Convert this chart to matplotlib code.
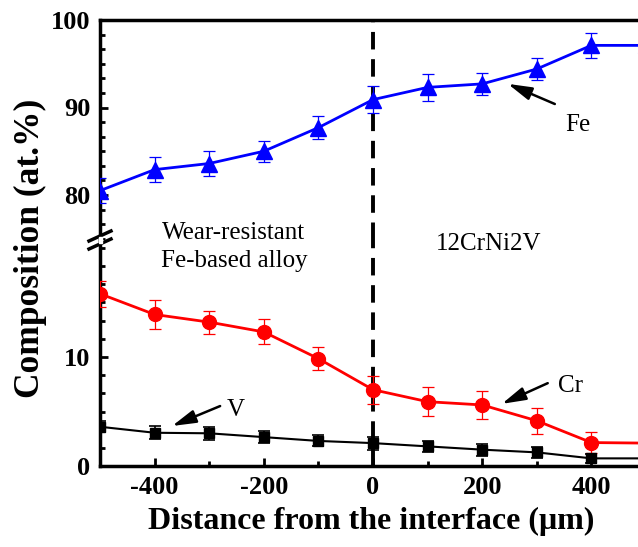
import matplotlib
matplotlib.use('Agg')
import matplotlib.pyplot as plt
from matplotlib.ticker import MultipleLocator, AutoMinorLocator

plt.rcParams['font.family'] = ['Liberation Serif', 'DejaVu Serif']

# data
distance = [-500, -400, -300, -200, -100, 0, 100, 200, 300, 400, 500]
fe = [80.5, 82.9, 83.6, 85.0, 87.7, 90.9, 92.3, 92.7, 94.4, 97.1, 97.1]
fe_err = [1.4, 1.4, 1.45, 1.2, 1.3, 1.55, 1.5, 1.3, 1.3, 1.4, 0.0]
cr = [15.8, 13.9, 13.2, 12.3, 9.85, 7.0, 5.9, 5.6, 4.15, 2.15, 2.1]
cr_err = [1.2, 1.35, 1.05, 1.15, 1.07, 1.3, 1.35, 1.25, 1.2, 1.0, 0.0]
v = [3.6, 3.05, 3.0, 2.65, 2.3, 2.1, 1.8, 1.5, 1.25, 0.7, 0.7]
v_err = [0.5, 0.6, 0.6, 0.55, 0.5, 0.6, 0.5, 0.55, 0.5, 0.4, 0.0]

W, H = 638, 547
fig = plt.figure(figsize=(W / 100, H / 100), dpi=100)

left = 100 / W
width = 546 / W          # -500..500 -> 100..646 px (right end cut off)
top_px, split_px, bot_px = 20, 240, 466
ax_top = fig.add_axes([left, 1 - split_px / H, width, (split_px - top_px) / H])
ax_bot = fig.add_axes([left, 1 - bot_px / H, width, (bot_px - split_px) / H])

err_kw = dict(elinewidth=0.9, capsize=4, capthick=0.9, lw=2, zorder=3)
ax_top.errorbar(distance, fe, yerr=fe_err, color='#0000ff', marker='^', ms=11, **err_kw)
ax_bot.errorbar(distance, cr, yerr=cr_err, color='#ff0000', marker='o', ms=10, **err_kw)
ax_bot.errorbar(distance, v, yerr=v_err, color='black', marker='s', ms=7.5,
                elinewidth=1.2, capsize=4, capthick=1.2, lw=1.5, zorder=3)

ax_top.set_ylim(100 - (split_px - top_px) / 8.75, 100)
ax_bot.set_ylim(0, (bot_px - split_px) / 10.9)

for ax in (ax_top, ax_bot):
    ax.set_xlim(-500, 500)
    ax.axvline(0, color='black', lw=2.8, ls=(0, (4.5, 2.5)), zorder=2)
    ax.spines['right'].set_visible(False)
    ax.spines['left'].set_linewidth(2.5)
    ax.yaxis.set_major_locator(MultipleLocator(10))
    ax.yaxis.set_minor_locator(AutoMinorLocator(6))
    ax.tick_params(axis='both', which='major', direction='in', length=6, width=2,
                   labelsize=19, right=False, top=False)
    ax.tick_params(axis='both', which='minor', direction='in', length=3.5, width=2,
                   right=False, top=False)
    ax.tick_params(axis='y', pad=7)

ax_top.spines['bottom'].set_visible(False)
ax_top.spines['top'].set_linewidth(2.5)
ax_top.tick_params(axis='x', which='both', bottom=False, labelbottom=False)
ax_bot.spines['top'].set_visible(False)
ax_bot.spines['bottom'].set_linewidth(2.5)
ax_bot.xaxis.set_minor_locator(MultipleLocator(100))
ax_bot.set_xticks([-400, -200, 0, 200, 400])
ax_bot.set_xticklabels(['-400', '-200', '0', '200', '400'], fontweight='bold', fontsize=19)
ax_bot.tick_params(axis='x', pad=7)
ax_top.set_yticks([80, 90, 100])
ax_top.set_yticklabels(['80', '90', '100'], fontweight='bold', fontsize=19)
ax_bot.set_yticks([0, 10])
ax_bot.set_yticklabels(['0', '10'], fontweight='bold', fontsize=19)

# break marks on left axis
for dy in (-4, 4):
    yb = 1 - (split_px + dy) / H
    fig.add_artist(plt.Line2D([left - 11 / W, left + 11 / W], [yb - 5 / H, yb + 5 / H],
                              color='black', lw=2.5, transform=fig.transFigure))
fig.add_artist(plt.Rectangle((left - 1.5 / W, 1 - (split_px + 3) / H), 3 / W, 6 / H,
                             color='white', transform=fig.transFigure, zorder=5))

# region labels
fig.text(234 / W, 1 - 247 / H, 'Wear-resistant\nFe-based alloy', ha='center', va='center',
         fontsize=18, linespacing=1.35)
fig.text(489 / W, 1 - 244 / H, '12CrNi2V', ha='center', va='center', fontsize=18)

arrow = dict(arrowstyle='-|>,head_length=0.8,head_width=0.22', color='black', lw=1.8,
             mutation_scale=18, shrinkA=0, shrinkB=0)
ax_top.annotate('', xy=(247, 92.7), xytext=(333, 90.4), arrowprops=arrow)
ax_top.text(375, 88.0, 'Fe', ha='center', va='center', fontsize=18)
ax_bot.annotate('', xy=(236, 5.7), xytext=(320, 7.6), arrowprops=arrow)
ax_bot.text(361, 7.3, 'Cr', ha='center', va='center', fontsize=18)
ax_bot.annotate('', xy=(-368, 3.67), xytext=(-280, 5.5), arrowprops=arrow)
ax_bot.text(-251, 5.1, 'V', ha='center', va='center', fontsize=18)

fig.text(30 / W, 1 - 248 / H, 'Composition (at.%)', rotation=90, ha='center', va='center',
         fontsize=25.5, fontweight='bold')
fig.text(371 / W, 1 - 521 / H, 'Distance from the interface (\u03bcm)', ha='center', va='center',
         fontsize=23, fontweight='bold')

fig.savefig('out.png', dpi=100)
